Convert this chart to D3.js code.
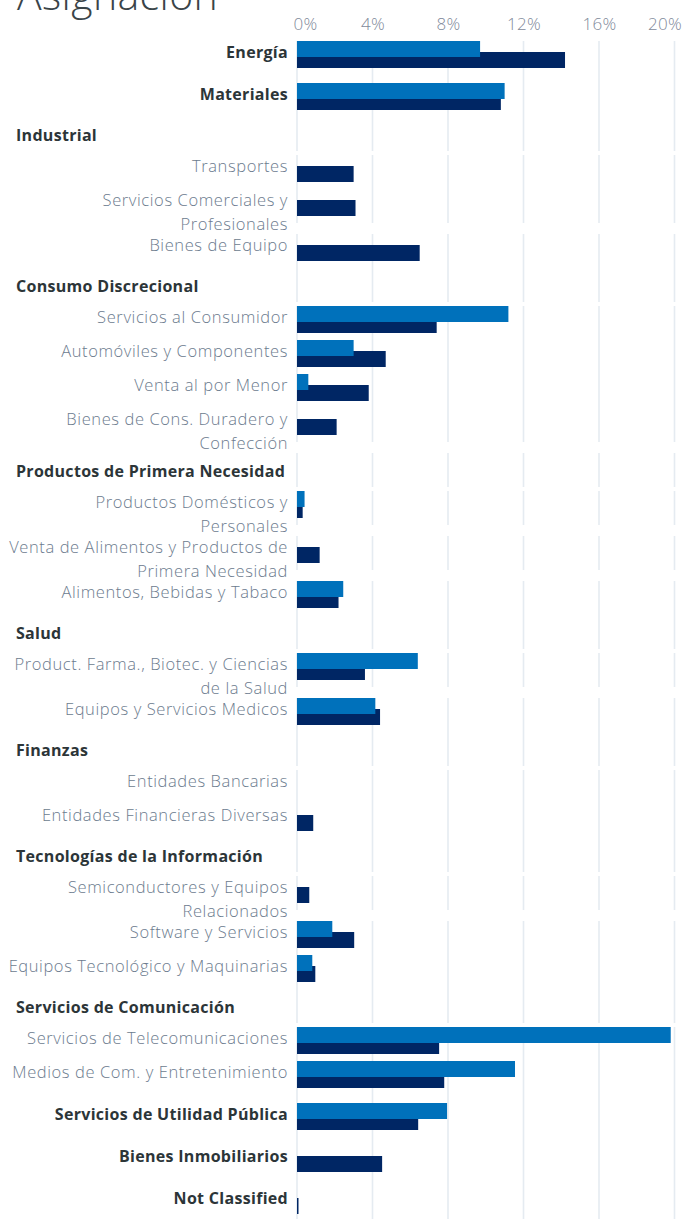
<!DOCTYPE html>
<html>
<head>
<meta charset="utf-8">
<script src="https://cdn.jsdelivr.net/npm/d3@7"></script>
<style>
  html, body { margin: 0; padding: 0; background: #ffffff; }
  svg { display: block; }
  text { font-family: "Open Sans", "Noto Sans", sans-serif; }
</style>
</head>
<body>
<svg id="chart" width="684" height="1219"></svg>
<script>
// ---- data ----
const labels = [
  "Energía", "Materiales", "Industrial", "Transportes",
  "Servicios Comerciales y\nProfesionales", "Bienes de Equipo",
  "Consumo Discrecional", "Servicios al Consumidor", "Automóviles y Componentes",
  "Venta al por Menor", "Bienes de Cons. Duradero y\nConfección",
  "Productos de Primera Necesidad", "Productos Domésticos y\nPersonales",
  "Venta de Alimentos y Productos de\nPrimera Necesidad", "Alimentos, Bebidas y Tabaco",
  "Salud", "Product. Farma., Biotec. y Ciencias\nde la Salud", "Equipos y Servicios Medicos",
  "Finanzas", "Entidades Bancarias", "Entidades Financieras Diversas",
  "Tecnologías de la Información", "Semiconductores y Equipos\nRelacionados",
  "Software y Servicios", "Equipos Tecnológico y Maquinarias",
  "Servicios de Comunicación", "Servicios de Telecomunicaciones",
  "Medios de Com. y Entretenimiento", "Servicios de Utilidad Pública",
  "Bienes Inmobiliarios", "Not Classified"
];
// row kinds: "sector" = bold sector with bars, "group" = bold group heading, "sub" = sub-industry
const kinds = [
  "sector", "sector", "group", "sub", "sub", "sub",
  "group", "sub", "sub", "sub", "sub",
  "group", "sub", "sub", "sub",
  "group", "sub", "sub",
  "group", "sub", "sub",
  "group", "sub", "sub", "sub",
  "group", "sub", "sub",
  "sector", "sector", "sector"
];
const fondo = [
  9.7, 11.0, null, 0, 0, 0,
  null, 11.2, 3.0, 0.6, 0,
  null, 0.4, 0, 2.45,
  null, 6.4, 4.15,
  null, 0, 0,
  null, 0, 1.87, 0.81,
  null, 19.8, 11.55,
  7.95, 0, 0
];
const indice = [
  14.2, 10.8, null, 3.0, 3.1, 6.5,
  null, 7.4, 4.7, 3.8, 2.1,
  null, 0.3, 1.2, 2.2,
  null, 3.6, 4.4,
  null, 0, 0.86,
  null, 0.65, 3.03, 0.97,
  null, 7.53, 7.8,
  6.42, 4.51, 0.05
];
const tickValues = [0, 4, 8, 12, 16, 20];
const title = "Asignación";

// ---- style / layout ----
const colFondo = "#0071bb";
const colIndice = "#002664";
const gridCol = "#e5ebf1";
const barH = 16, barShift = 11;
const rowH = { sector: 42, group: 34, sub: 34 };
const barOffset = { sector: 8, group: 0, sub: 0 };
const labelRight = 288;
const startY = 33;

const rows = labels.map((l, i) => ({
  label: l, lines: l.split("\n"), kind: kinds[i], a: fondo[i], b: indice[i]
}));
let y = startY;
rows.forEach((r, i) => {
  r.top = y;
  r.h = rowH[r.kind];
  r.barTop = y + barOffset[r.kind];
  r.gapAfter = r.kind === "group" ? 4 : (r.lines.length > 1 ? 11 : 0);
  y += r.h + r.gapAfter;
});

const svg = d3.select("#chart");
const x = d3.scaleLinear().domain([0, 20]).range([297, 674.5]);

// title
svg.append("text").attr("x", 17).attr("y", 10)
  .attr("font-size", 41).attr("font-weight", 300).attr("fill", "#3a4448")
  .attr("letter-spacing", 0.4)
  .text(title);

// gridlines per row
rows.forEach((r, i) => {
  const y0 = i === 0 ? r.barTop : r.top;
  svg.append("g").selectAll("line").data(tickValues).join("line")
    .attr("x1", d => x(d)).attr("x2", d => x(d))
    .attr("y1", y0).attr("y2", r.top + r.h)
    .attr("stroke", gridCol).attr("stroke-width", 1.6);
});

// axis tick labels
const axis = svg.append("g").attr("transform", "translate(0,30)")
  .call(d3.axisTop(x).tickValues(tickValues).tickSize(0).tickPadding(0).tickFormat(d => d + "%"));
axis.select(".domain").remove();
const nT = tickValues.length;
axis.selectAll("text")
  .attr("font-family", "'Open Sans', sans-serif")
  .attr("font-size", 17).attr("font-weight", 300).attr("fill", "#7f8a9a")
  .attr("letter-spacing", 0.3)
  .attr("dy", 0)
  .attr("text-anchor", (d, i) => i === 0 ? "start" : (i === nT - 1 ? "end" : "middle"))
  .attr("x", (d, i) => i === 0 ? -4 : (i === nT - 1 ? 7 : 0));

// bars
const barRows = rows.filter(r => r.kind !== "group");
svg.append("g").selectAll("rect").data(barRows.filter(r => r.b > 0)).join("rect")
  .attr("x", x(0)).attr("y", r => r.barTop + barShift)
  .attr("width", r => Math.max(1.5, x(r.b) - x(0))).attr("height", barH)
  .attr("fill", colIndice);
svg.append("g").selectAll("rect").data(barRows.filter(r => r.a > 0)).join("rect")
  .attr("x", x(0)).attr("y", r => r.barTop)
  .attr("width", r => x(r.a) - x(0)).attr("height", barH)
  .attr("fill", colFondo);

// labels
rows.forEach(r => {
  if (r.kind === "group") {
    svg.append("text").attr("x", 16).attr("y", r.top + 24)
      .attr("font-size", 16).attr("font-weight", 700).attr("fill", "#2c3538")
      .attr("letter-spacing", 0.3)
      .text(r.label);
  } else if (r.kind === "sector") {
    svg.append("text").attr("x", labelRight).attr("y", r.barTop + 17)
      .attr("text-anchor", "end")
      .attr("font-size", 16).attr("font-weight", 700).attr("fill", "#2c3538")
      .attr("letter-spacing", 0.3)
      .text(r.label);
  } else {
    const t = svg.append("text").attr("x", labelRight).attr("y", r.barTop + 17)
      .attr("text-anchor", "end")
      .attr("font-size", 16.5).attr("font-weight", 300).attr("fill", "#6c7b8e")
      .attr("letter-spacing", 0.6);
    r.lines.forEach((ln, k) => {
      t.append("tspan").attr("x", labelRight).attr("dy", k === 0 ? 0 : 23.5).text(ln);
    });
  }
});
</script>
</body>
</html>
